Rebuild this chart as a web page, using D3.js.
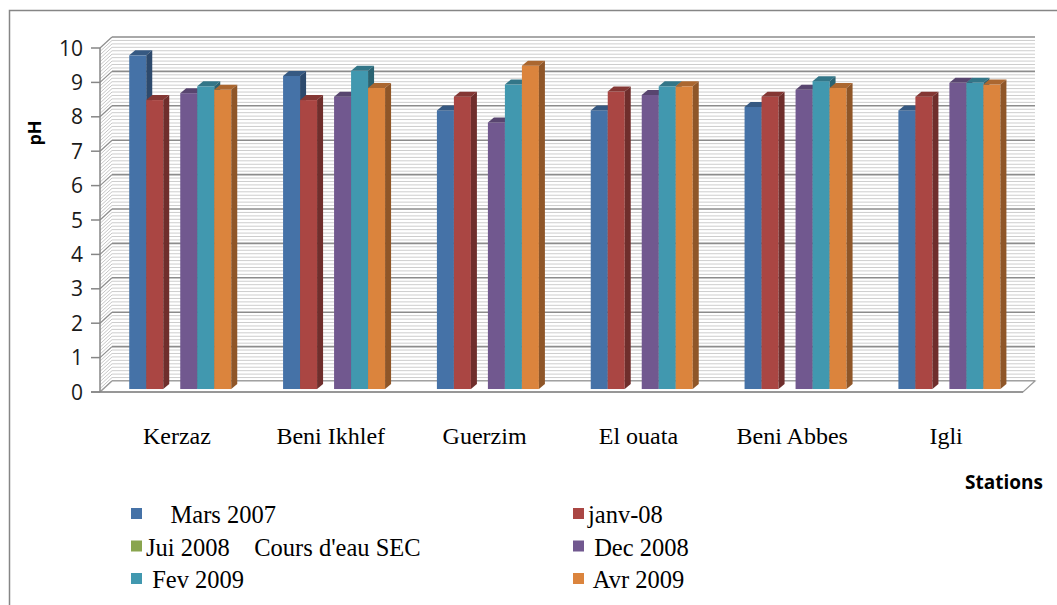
<!DOCTYPE html>
<html>
<head>
<meta charset="utf-8">
<script src="https://cdn.jsdelivr.net/npm/d3@7"></script>
<style>
  body { margin: 0; background: #fff; }
  svg { display: block; }
  text { white-space: pre; }
</style>
</head>
<body>
<svg id="chart" width="1057" height="605"></svg>
<script>
// pH per station, one array per sampling campaign
const stations = ["Kerzaz", "Beni Ikhlef", "Guerzim", "El ouata", "Beni Abbes", "Igli"];
const seriesNames = ["    Mars 2007", "janv-08", "Jui 2008    Cours d'eau SEC", " Dec 2008", " Fev 2009", " Avr 2009"];
const mars2007 = [9.7, 9.1, 8.1, 8.1, 8.2, 8.1];
const janv08 = [8.4, 8.4, 8.5, 8.65, 8.5, 8.5];
const jui2008 = [null, null, null, null, null, null]; // dry riverbed, no sample
const dec2008 = [8.6, 8.5, 7.75, 8.55, 8.7, 8.9];
const fev2009 = [8.8, 9.25, 8.85, 8.8, 8.95, 8.9];
const avr2009 = [8.7, 8.75, 9.4, 8.8, 8.75, 8.85];
const yTicks = [0, 1, 2, 3, 4, 5, 6, 7, 8, 9, 10];
const colors = ["#4572a7", "#aa4643", "#89a54e", "#71588f", "#4198af", "#db843d"];

const series = [mars2007, janv08, jui2008, dec2008, fev2009, avr2009];

const svg = d3.select('#chart');

// 3D wall depth
const DX = 12, DY = 11;
const x = d3.scaleBand().domain(stations).range([100, 1023]);
const xs = d3.scaleBand().domain(d3.range(series.length)).range([26, 128]);
const y = d3.scaleLinear().domain([0, 10]).range([392, 48]);

// outer chart border
svg.append('rect')
  .attr('x', 9.5).attr('y', 10.5).attr('width', 1100).attr('height', 700)
  .attr('fill', 'none').attr('stroke', '#868686').attr('stroke-width', 1.5);

const wall = svg.append('g');
const minor = d3.range(0, 10.001, 0.1).map(v => +v.toFixed(1));

// back wall + side wall minor lines
minor.forEach(v => {
  if (Number.isInteger(v)) return;
  wall.append('line')
    .attr('x1', 100 + DX).attr('x2', 1023 + DX)
    .attr('y1', y(v) - DY).attr('y2', y(v) - DY)
    .attr('stroke', '#cdcdcd').attr('stroke-width', 1);
  wall.append('line')
    .attr('x1', 100).attr('x2', 100 + DX)
    .attr('y1', y(v)).attr('y2', y(v) - DY)
    .attr('stroke', '#b8b8b8').attr('stroke-width', 0.8);
});
// major lines
yTicks.forEach(v => {
  wall.append('line')
    .attr('x1', 100 + DX).attr('x2', 1023 + DX)
    .attr('y1', y(v) - DY).attr('y2', y(v) - DY)
    .attr('stroke', '#8c8c8c').attr('stroke-width', 1.6);
  wall.append('line')
    .attr('x1', 100).attr('x2', 100 + DX)
    .attr('y1', y(v)).attr('y2', y(v) - DY)
    .attr('stroke', '#8c8c8c').attr('stroke-width', 1.2);
});

// floor
svg.append('path')
  .attr('d', `M100,${y(0)}L1023,${y(0)}L${1023 + DX},${y(0) - DY}L${100 + DX},${y(0) - DY}Z`)
  .attr('fill', '#fff').attr('stroke', '#9a9a9a').attr('stroke-width', 1.2);

// y axis
const axis = svg.append('g');
axis.append('line').attr('x1', 100).attr('x2', 100).attr('y1', y(10)).attr('y2', y(0))
  .attr('stroke', '#868686').attr('stroke-width', 1.5);
axis.append('line').attr('x1', 91).attr('x2', 1023).attr('y1', y(0)).attr('y2', y(0))
  .attr('stroke', '#868686').attr('stroke-width', 1.5);
axis.selectAll('line.tick').data(yTicks).join('line').classed('tick', true)
  .attr('x1', 91).attr('x2', 100).attr('y1', d => y(d)).attr('y2', d => y(d))
  .attr('stroke', '#868686').attr('stroke-width', 1.5);
axis.selectAll('text').data(yTicks).join('text')
  .attr('x', 83).attr('y', d => y(d)).attr('dy', '0.36em')
  .attr('text-anchor', 'end')
  .style('font-family', '"Open Sans", sans-serif').style('font-size', '21px').attr('fill', '#1a1a1a')
  .text(d => d);

// bars, drawn left to right so each front face covers the previous side face
const BD = 0.27, bx = 6, by = 5;
const bars = svg.append('g');
stations.forEach((s, i) => {
  series.forEach((vals, j) => {
    const v = vals[i];
    if (v == null) return;
    const x0 = x(s) + xs(j) + BD * DX;
    const w = xs.bandwidth();
    const yb = y(0) - BD * DY, yt = y(v) - BD * DY;
    const c = d3.color(colors[j]);
    bars.append('rect').attr('x', x0).attr('y', yt).attr('width', w).attr('height', yb - yt)
      .attr('fill', c);
    bars.append('path')
      .attr('d', `M${x0},${yt}L${x0 + bx},${yt - by}L${x0 + w + bx},${yt - by}L${x0 + w},${yt}Z`)
      .attr('fill', c.darker(0.7));
    bars.append('path')
      .attr('d', `M${x0 + w},${yt}L${x0 + w + bx},${yt - by}L${x0 + w + bx},${yb - by}L${x0 + w},${yb}Z`)
      .attr('fill', c.darker(1.2));
  });
});

// category labels
svg.append('g').selectAll('text').data(stations).join('text')
  .attr('x', d => x(d) + x.bandwidth() / 2).attr('y', 444)
  .attr('text-anchor', 'middle')
  .style('font-family', '"Liberation Serif", "Times New Roman", serif').style('font-size', '24px')
  .text(d => d);

// axis titles
svg.append('text').attr('transform', 'translate(41,133) rotate(-90)')
  .attr('text-anchor', 'middle')
  .style('font-family', '"Open Sans", sans-serif').style('font-size', '18px').style('font-weight', 'bold')
  .text('pH');
svg.append('text').attr('x', 1043).attr('y', 489).attr('text-anchor', 'end')
  .style('font-family', '"Open Sans", sans-serif').style('font-size', '19px').style('font-weight', 'bold')
  .text('Stations');

// legend, two columns
const legend = svg.append('g');
seriesNames.forEach((name, j) => {
  const col = j % 2, row = Math.floor(j / 2);
  const lx = col === 0 ? 131 : 573;
  const ly = 523 + row * 32.5;
  legend.append('rect').attr('x', lx).attr('y', ly - 15).attr('width', 11).attr('height', 11)
    .attr('fill', colors[j]);
  legend.append('text').attr('x', lx + 15).attr('y', ly)
    .style('font-family', '"Liberation Serif", "Times New Roman", serif').style('font-size', '24.5px')
    .text(name);
});
</script>
</body>
</html>
